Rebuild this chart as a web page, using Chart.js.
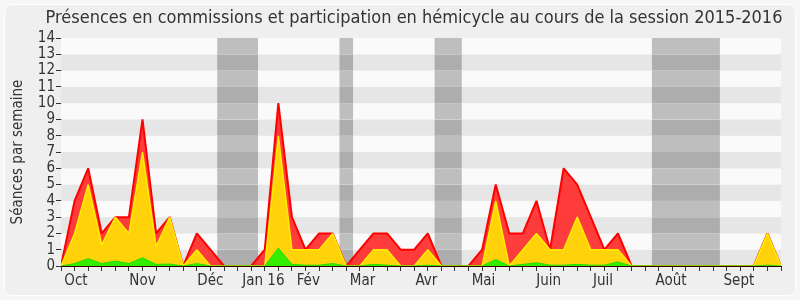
<!DOCTYPE html>
<html>
<head>
<meta charset="utf-8">
<script src="https://cdn.jsdelivr.net/npm/chart.js@4"></script>
<style>
  html, body { margin: 0; padding: 0; background: #f6f6f6; }
  #wrap { width: 800px; height: 300px; }
</style>
</head>
<body>
<div id="wrap"><canvas id="presences" width="800" height="300"></canvas></div>
<script>
// semaines de la session 2015-2016 (index 0 = fin septembre 2015)
const semaines = [];
for (let i = 0; i <= 53; i++) semaines.push(i);

// hémicycle + commissions (total)
const totalSeances = [0, 4, 6, 2, 3, 3, 9, 2, 3, 0, 2, 1, 0, 0, 0, 1, 10, 3, 1, 2,
  2, 0, 1, 2, 2, 1, 1, 2, 0, 0, 0, 1, 5, 2, 2, 4, 1, 6, 5, 3,
  1, 2, 0, 0, 0, 0, 0, 0, 0, 0, 0, 0, 2, 0];
// présences en commission
const commissions = [0, 2, 5, 1.3, 3, 2, 7, 1.2, 3, 0, 1, 0, 0, 0, 0, 0, 8, 1, 1, 1,
  2, 0, 0, 1, 1, 0, 0, 1, 0, 0, 0, 0, 4, 0, 1, 2, 1, 1, 3, 1,
  1, 1, 0, 0, 0, 0, 0, 0, 0, 0, 0, 0, 2, 0];
// participation en hémicycle
const participations = [0, 0.15, 0.45, 0.15, 0.3, 0.15, 0.5, 0.1, 0.12, 0, 0.15, 0, 0, 0, 0, 0, 1.1, 0.1, 0.05, 0.05,
  0.15, 0, 0, 0.1, 0.05, 0, 0, 0.05, 0, 0, 0, 0, 0.4, 0, 0.1, 0.2, 0.05, 0.05, 0.1, 0.05,
  0.05, 0.25, 0, 0, 0, 0, 0, 0, 0, 0, 0, 0, 0.05, 0];

// libellés des mois et leur position (en semaines)
const moisLabels = ["Oct", "Nov", "Déc", "Jan 16", "Fév", "Mar", "Avr", "Mai", "Juin", "Juil", "Août", "Sept"];
const moisPos = [1.1, 6, 11, 14.9, 18.2, 22.2, 26.9, 31.1, 35.9, 39.9, 44.9, 49.9];

// vacances parlementaires [début, fin] en semaines
const vacances = [[11.5, 14.5], [20.5, 21.5], [27.5, 29.5], [43.5, 48.5]];

const FONT = "'DejaVu Sans Condensed', 'DejaVu Sans', sans-serif";
const TITRE = "Présences en commissions et participation en hémicycle au cours de la session 2015-2016";
const Y_TITRE = "Séances par semaine";

const fondPlugin = {
  id: "fond",
  beforeDraw(chart) {
    const c = chart.ctx;
    c.save();
    c.fillStyle = "#f6f6f6";
    c.fillRect(0, 0, chart.width, chart.height);
    c.beginPath();
    c.roundRect(4.5, 4.5, chart.width - 9, chart.height - 9, 8);
    c.fillStyle = "#efefef";
    c.fill();
    c.strokeStyle = "#ffffff";
    c.lineWidth = 1;
    c.stroke();
    c.restore();
  },
  beforeDatasetsDraw(chart) {
    const c = chart.ctx;
    const area = chart.chartArea;
    const x = chart.scales.x;
    const y = chart.scales.y;
    c.save();
    for (let v = 0; v < 14; v++) {
      const top = y.getPixelForValue(v + 1);
      const bot = y.getPixelForValue(v);
      c.fillStyle = v % 2 === 0 ? "#e6e6e6" : "#fafafa";
      c.fillRect(area.left, top, area.right - area.left, bot - top);
      vacances.forEach(function (p) {
        const x0 = x.getPixelForValue(p[0]);
        const x1 = x.getPixelForValue(p[1]);
        c.fillStyle = v % 2 === 0 ? "#adadad" : "#bebebe";
        c.fillRect(x0, top, x1 - x0, bot - top);
      });
    }
    c.restore();
  },
  afterDraw(chart) {
    const c = chart.ctx;
    const area = chart.chartArea;
    c.save();
    c.fillStyle = "#333";
    // titre du graphique
    c.font = "18px " + FONT;
    c.textAlign = "center";
    c.textBaseline = "middle";
    c.fillText(TITRE, 414, 18);
    // titre de l'axe y
    c.translate(18, (area.top + area.bottom) / 2);
    c.rotate(-Math.PI / 2);
    c.font = "15px " + FONT;
    c.fillText(Y_TITRE, 0, 0);
    c.restore();
  },
};

const ctx = document.getElementById("presences");
new Chart(ctx, {
  type: "line",
  data: {
    labels: semaines,
    datasets: [
      {
        data: participations,
        backgroundColor: "#33ee00",
        borderColor: "#22dd00",
        borderWidth: 1,
        fill: "origin",
        order: 1,
      },
      {
        data: commissions,
        backgroundColor: "#ffd20a",
        borderColor: "#ffee00",
        borderWidth: 1.5,
        fill: "origin",
        order: 2,
      },
      {
        data: totalSeances,
        backgroundColor: "rgba(255, 40, 40, 0.9)",
        borderColor: "#ff0000",
        borderWidth: 2,
        fill: "origin",
        order: 3,
      },
    ],
  },
  options: {
    responsive: false,
    animation: false,
    elements: {
      point: { radius: 0 },
      line: { tension: 0, borderJoinStyle: "bevel" },
    },
    layout: { padding: { left: 0, right: 19, top: 38, bottom: 0 } },
    plugins: {
      legend: { display: false },
      tooltip: { enabled: false },
      title: { display: false },
    },
    scales: {
      x: {
        type: "linear",
        min: 0,
        max: 53,
        afterBuildTicks: function (scale) {
          scale.ticks = semaines.map(function (v) { return { value: v }; });
        },
        afterFit: function (scale) { scale.height = 6; },
        ticks: { display: false },
        grid: { drawOnChartArea: false, drawTicks: true, tickLength: 5, color: "#333" },
        border: { color: "#330000", width: 1 },
      },
      xm: {
        type: "linear",
        position: "bottom",
        min: 0,
        max: 53,
        afterBuildTicks: function (scale) {
          scale.ticks = moisPos.map(function (v) { return { value: v }; });
        },
        afterFit: function (scale) { scale.height = 28; },
        ticks: {
          autoSkip: false,
          maxRotation: 0,
          padding: 0,
          color: "#333",
          font: { family: FONT, size: 15 },
          callback: function (value, index) { return moisLabels[index]; },
        },
        grid: { display: false, drawTicks: false },
        border: { display: false },
      },
      y: {
        min: 0,
        max: 14,
        afterFit: function (scale) { scale.width = 61; },
        ticks: {
          stepSize: 1,
          autoSkip: false,
          padding: 1,
          color: "#333",
          font: { family: FONT, size: 15 },
        },
        grid: { drawOnChartArea: false, drawTicks: true, tickLength: 5, color: "#333" },
        border: { color: "#333", width: 1 },
      },
    },
  },
  plugins: [fondPlugin],
});
</script>
</body>
</html>
